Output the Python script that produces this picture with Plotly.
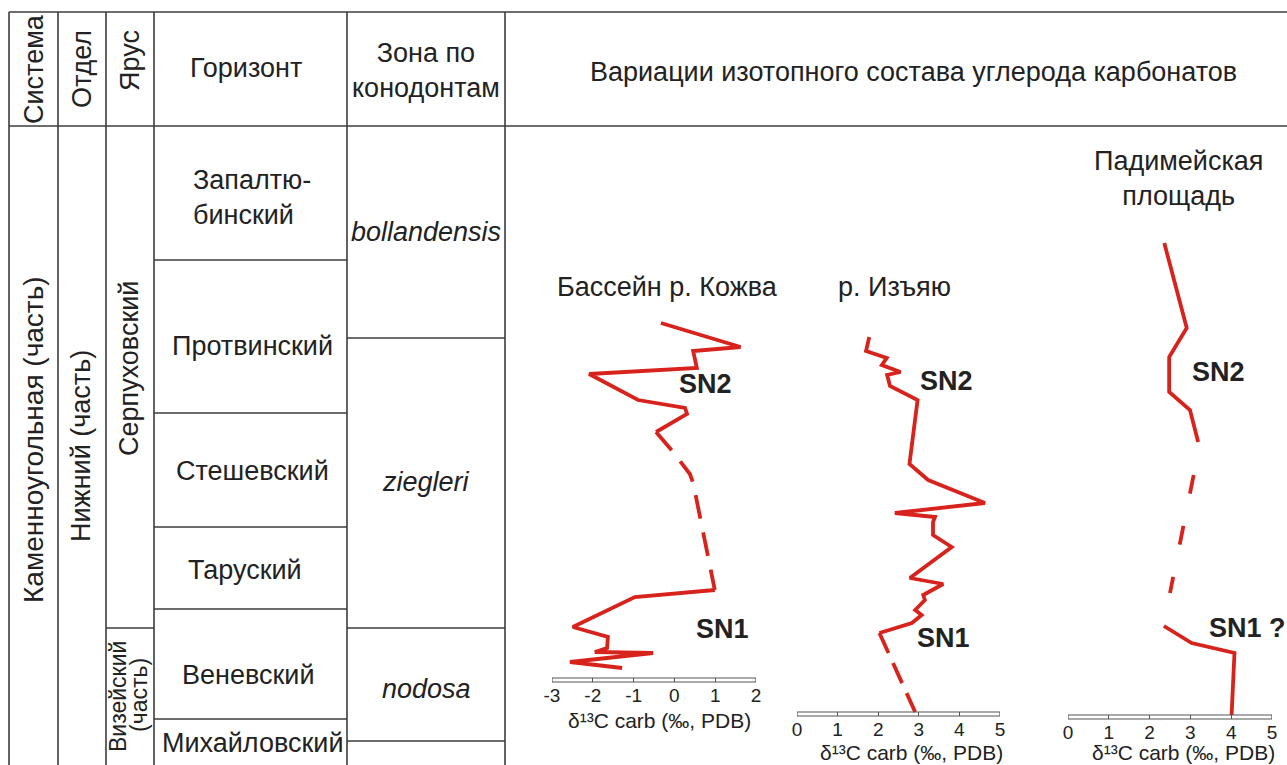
import plotly.graph_objects as go

# ---------------------------------------------------------------
# Stratigraphic framework: section levels grow downward
# ---------------------------------------------------------------
SECTION_TOP = 126
SECTION_BASE = 765

horizon_names = ["Запалтю-<br>бинский", "Протвинский", "Стешевский", "Таруский",
                 "Веневский", "Михайловский"]
horizon_tops = [126, 260, 413, 527, 609, 719]

zone_names = ["bollandensis", "ziegleri", "nodosa"]
zone_tops = [126, 338, 628, 741]

stage_names = ["Серпуховский", "Визейский|(часть)"]
stage_tops = [126, 628]

series_name = "Нижний (часть)"
system_name = "Каменноугольная (часть)"

# ---------------------------------------------------------------
# δ13C carb curves (‰, PDB) versus section level
# ---------------------------------------------------------------
# Бассейн р. Кожва
kozhva_top_d13c = [-0.33, 1.62, 0.46, 0.55, -2.09, -0.89, 0.26, 0.31, -0.45]
kozhva_top_level = [323, 347, 351, 368, 374, 400, 408, 414, 432]
kozhva_gap_d13c = [-0.45, -0.03, 0.38, 0.46, 0.99]
kozhva_gap_level = [432, 452, 474, 483, 590]
kozhva_base_d13c = [0.99, -0.97, -2.49, -1.63, -1.65, -1.95, -0.52, -2.56, -1.28]
kozhva_base_level = [590, 597, 627, 637, 648, 652, 653, 662, 668]

# р. Изъяю
izyayu_top_d13c = [1.78, 1.70, 2.21, 2.09, 2.55, 2.22, 2.29, 2.97, 2.77, 3.23,
                   4.63, 2.41, 3.40, 3.35, 3.35, 3.81, 2.78, 3.60, 3.11, 3.15,
                   2.91, 3.07, 2.83, 2.03]
izyayu_top_level = [337, 351, 358, 365, 372, 375, 386, 400, 464, 480,
                    503, 513, 517, 522, 535, 547, 578, 584, 595, 600,
                    610, 615, 623, 633]
izyayu_gap_d13c = [2.03, 2.91]
izyayu_gap_level = [633, 712]

# Падимейская площадь
padimey_top_d13c = [2.36, 2.91, 2.48, 2.48, 2.99, 3.19]
padimey_top_level = [243, 328, 357, 392, 410, 442]
padimey_gap_d13c = [3.08, 2.50]
padimey_gap_level = [475, 593]
padimey_base_d13c = [2.35, 3.03, 4.08, 4.01]
padimey_base_level = [626, 643, 653, 715]

# ---------------------------------------------------------------
W, H = 1287, 765
FONT = "Liberation Sans, Arial, sans-serif"
INK = "#222222"
GRID = "#3c3c3c"
RED = "#d8231c"
FS = 27

fig = go.Figure()


def curve(xs, ys, axis, dash="solid"):
    fig.add_trace(go.Scatter(
        x=xs, y=ys, xaxis=axis, yaxis="y", mode="lines",
        line=dict(color=RED, width=3.8, dash=dash),
        hoverinfo="skip", showlegend=False))


curve(kozhva_top_d13c, kozhva_top_level, "x2")
curve(kozhva_gap_d13c, kozhva_gap_level, "x2", "24px,14px")
curve(kozhva_base_d13c, kozhva_base_level, "x2")

curve(izyayu_top_d13c, izyayu_top_level, "x3")
curve(izyayu_gap_d13c, izyayu_gap_level, "x3", "22px,11px")

curve(padimey_top_d13c, padimey_top_level, "x4")
curve(padimey_gap_d13c, padimey_gap_level, "x4", "19px,33px")
curve(padimey_base_d13c, padimey_base_level, "x4")

shapes = []
annotations = []


def hline(y, x0, x1):
    shapes.append(dict(type="line", xref="x", yref="y", x0=x0, x1=x1, y0=y, y1=y,
                       line=dict(color=GRID, width=1.6)))


def vline(x, y0, y1):
    shapes.append(dict(type="line", xref="x", yref="y", x0=x, x1=x, y0=y0, y1=y1,
                       line=dict(color=GRID, width=1.6)))


def text(x, y, s, size=FS, angle=0, italic=False, bold=False, xanchor="center",
         xref="x", align="center"):
    if bold:
        s = f"<b>{s}</b>"
    if italic:
        s = f"<i>{s}</i>"
    annotations.append(dict(x=x, y=y, xref=xref, yref="y", text=s, showarrow=False,
                            textangle=angle, xanchor=xanchor, yanchor="middle",
                            align=align,
                            font=dict(family=FONT, size=size, color=INK)))


# table frame
col_edges = [9, 58, 106, 154, 347, 505]
TABLE_TOP = 12
hline(TABLE_TOP, 9, W)
hline(SECTION_TOP, 9, W)
for cx in col_edges:
    vline(cx, TABLE_TOP, SECTION_BASE)

# horizon boundaries
for t in horizon_tops[1:]:
    hline(t, 154, 347)
# zone boundaries
for t in zone_tops[1:]:
    hline(t, 347, 505)
# stage boundaries
for t in stage_tops[1:]:
    hline(t, 106, 154)

# header
text(34, 69, "Система", angle=-90)
text(82, 69, "Отдел", angle=-90)
text(130, 61, "Ярус", angle=-90)
text(246, 68, "Горизонт")
text(426, 70, "Зона по<br>конодонтам")
text(913, 72, "Вариации изотопного состава углерода карбонатов")

# column contents
text(33, 440, system_name, size=28, angle=-90)
text(81, 446, series_name, angle=-90)
text(129, 369, stage_names[0], angle=-90)
viz = stage_names[1].split("|")
text(118, 697, viz[0], size=23, angle=-90)
text(139, 695, viz[1], size=23, angle=-90)

hz_pos = [(191, 197), (252, 346), (252, 471), (245, 570), (248, 675), (252, 743)]
for name, (hx, hy) in zip(horizon_names, hz_pos):
    if "<br>" in name:
        text(hx, hy, name, xanchor="left", align="left")
    else:
        text(hx, hy, name)

zn_pos = [232, 482, 689]
for name, zy in zip(zone_names, zn_pos):
    text(426, zy, name, italic=True)

# curve titles
text(667, 287, "Бассейн р. Кожва")
text(894, 287, "р. Изъяю")
text(1178, 178, "Падимейская<br>площадь")

# excursion labels (placed in each curve's own δ13C scale)
text(0.77, 384, "SN2", bold=True, xref="x2")
text(1.17, 629, "SN1", bold=True, xref="x2")
text(3.67, 381, "SN2", bold=True, xref="x3")
text(3.62, 638, "SN1", bold=True, xref="x3")
text(3.68, 372, "SN2", bold=True, xref="x4")
text(4.41, 628, "SN1 ?", bold=True, xref="x4")

# δ13C scale bars
AX_TITLE = "δ¹³C carb (‰, PDB)"
scale_bars = [
    # axis, lo, hi, bar top, bar bottom, title centre x, title y
    ("x2", -3, 2, 678, 682, 659, 720),
    ("x3", 0, 5, 712, 716, 911, 752),
    ("x4", 0, 5, 715, 719, 1183, 752),
]
for ax, lo, hi, b0, b1, tx, ty in scale_bars:
    shapes.append(dict(type="rect", xref=ax, yref="y", x0=lo, x1=hi, y0=b0, y1=b1,
                       line=dict(color="#555555", width=1.2)))
    text(tx, ty, AX_TITLE, size=21)

fig.update_layout(shapes=shapes, annotations=annotations)


def scale_axis(domain_px, lo, hi, bar_bottom):
    ticks = list(range(lo, hi + 1))
    return dict(
        domain=[domain_px[0] / W, domain_px[1] / W], range=[lo, hi],
        anchor="free", position=1 - bar_bottom / H, automargin=False,
        showgrid=False, zeroline=False, showline=False,
        ticks="inside", ticklen=4, tickwidth=1.2, tickcolor="#555555",
        tickvals=ticks, ticktext=[str(t) for t in ticks],
        tickfont=dict(family=FONT, size=19, color=INK),
        fixedrange=True,
    )


fig.update_layout(
    template="none",
    width=W, height=H, autosize=False,
    margin=dict(l=0, r=0, t=0, b=0, pad=0, autoexpand=False),
    paper_bgcolor="white", plot_bgcolor="white",
    showlegend=False,
    xaxis=dict(range=[0, W], domain=[0, 1], visible=False, fixedrange=True,
               automargin=False),
    yaxis=dict(range=[H, 0], domain=[0, 1], visible=False, fixedrange=True,
               automargin=False),
    xaxis2=scale_axis((552, 756), -3, 2, 682),
    xaxis3=scale_axis((797, 1000), 0, 5, 716),
    xaxis4=scale_axis((1068, 1272), 0, 5, 719),
)

fig.write_html("out.html")
